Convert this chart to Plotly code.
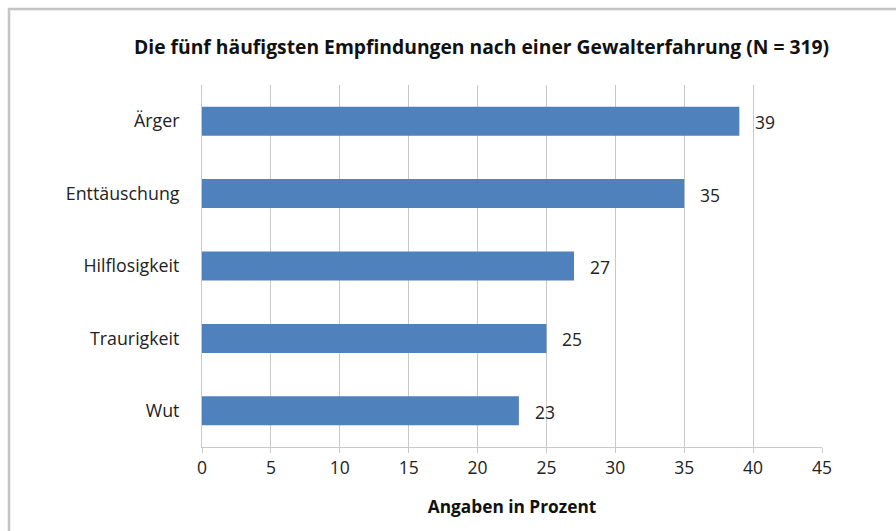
import plotly.graph_objects as go

# Survey results: emotions after a violent experience (percent of respondents)
categories = ["Ärger", "Enttäuschung", "Hilflosigkeit", "Traurigkeit", "Wut"]
values = [39, 35, 27, 25, 23]
x_ticks = [0, 5, 10, 15, 20, 25, 30, 35, 40, 45]

W, H = 896, 531
M_L, M_R, M_T, M_B = 202, 74, 85, 84

bar_color = "#4F81BD"
grid_color = "#c9c9c9"
text_color = "#222222"
font_family = "Open Sans, Liberation Sans, Arial, sans-serif"

fig = go.Figure()
fig.add_trace(go.Bar(
    y=categories,
    x=values,
    orientation="h",
    marker=dict(color=bar_color, line=dict(width=0)),
    width=0.4,
    hoverinfo="x+y",
))

# value labels to the right of each bar
for cat, val in zip(categories, values):
    fig.add_annotation(
        x=val, y=cat, text=str(val), showarrow=False,
        xanchor="left", xshift=14, yshift=-1,
        font=dict(size=17.5, color=text_color, family=font_family),
    )

# chart title
pw = W - M_L - M_R
ph = H - M_T - M_B
fig.add_annotation(
    x=(481 - M_L) / pw, y=(H - M_B - 47) / ph, xref="paper", yref="paper",
    text="<b>Die fünf häufigsten Empfindungen nach einer Gewalterfahrung (N = 319)</b>",
    showarrow=False, xanchor="center", yanchor="middle",
    font=dict(size=19.3, color="#111111", family=font_family),
)

# outer frame of the chart area
fig.add_shape(
    type="rect", xref="paper", yref="paper",
    x0=(9 - M_L) / pw, x1=(W + 20 - M_L) / pw,
    y0=(H - M_B - (H + 20)) / ph, y1=(H - M_B - 9) / ph,
    line=dict(color="#c4c4c4", width=2.5), fillcolor="rgba(0,0,0,0)",
    layer="below",
)

fig.update_layout(
    width=W, height=H,
    margin=dict(l=M_L, r=M_R, t=M_T, b=M_B),
    paper_bgcolor="white", plot_bgcolor="white",
    showlegend=False,
    bargap=0.6,
    font=dict(family=font_family, color=text_color, size=17.5),
    xaxis=dict(
        range=[0, 45], tickvals=x_ticks, ticktext=[str(t) for t in x_ticks],
        showgrid=True, gridcolor=grid_color, gridwidth=1,
        showline=True, linecolor=grid_color, linewidth=1,
        ticks="outside", ticklen=5, tickcolor=grid_color,
        tickfont=dict(size=17.5, color=text_color),
        zeroline=False,
        title=dict(text="<b>Angaben in Prozent</b>", standoff=22,
                   font=dict(size=17.3, color="#111111")),
    ),
    yaxis=dict(
        categoryorder="array", categoryarray=categories[::-1],
        showline=True, linecolor=grid_color, linewidth=1,
        showgrid=False, ticks="", ticklabelstandoff=18,
        tickfont=dict(size=17.8, color=text_color),
    ),
)

fig.write_html("out.html")
